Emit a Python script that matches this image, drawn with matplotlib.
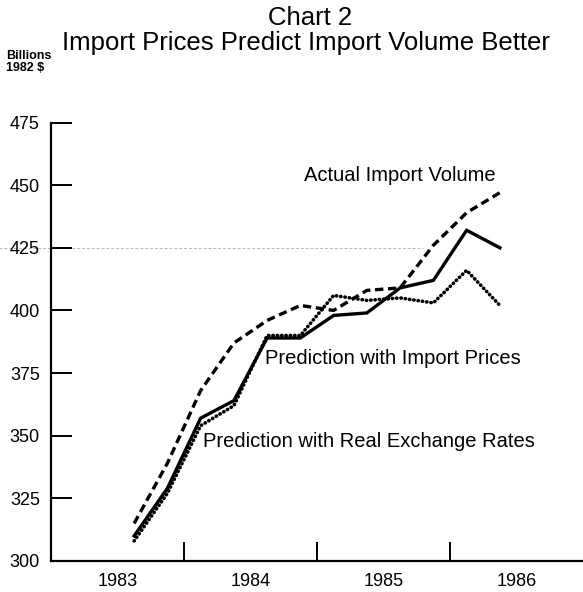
import matplotlib
matplotlib.use("Agg")
import matplotlib.pyplot as plt
import numpy as np

plt.rcParams['font.family'] = ['Liberation Sans', 'DejaVu Sans']

# Quarterly observations, 1983Q3 .. 1986Q2 (plotted at mid-quarter)
quarters = ["1983Q3", "1983Q4", "1984Q1", "1984Q2", "1984Q3", "1984Q4",
            "1985Q1", "1985Q2", "1985Q3", "1985Q4", "1986Q1", "1986Q2"]
actual_volume = [315, 339, 368, 387, 396, 402, 400, 408, 409, 426, 439, 447]
pred_import_prices = [310, 329, 357, 364, 389, 389, 398, 399, 409, 412, 432, 425]
pred_exchange_rates = [308, 327, 354, 362, 390, 390, 406, 404, 405, 403, 416, 402]

year_labels = ["1983", "1984", "1985", "1986"]
y_ticks = [300, 325, 350, 375, 400, 425, 450, 475]

def q_to_x(q):
    y = int(q[:4]); n = int(q[-1])
    return y + (n - 0.5) / 4.0

x = np.array([q_to_x(q) for q in quarters])

W, H = 583, 592
fig = plt.figure(figsize=(W / 100, H / 100), dpi=100)
ax = fig.add_axes([51 / W, 1 - 561 / H, 532 / W, (561 - 122.5) / H])

ax.plot(x, actual_volume, color='black', lw=2.4, linestyle=(0, (2.5, 1.4)),
        solid_capstyle='butt', dash_capstyle='butt')
ax.plot(x, pred_import_prices, color='black', lw=2.4, solid_joinstyle='miter')
ax.plot(x, pred_exchange_rates, color='black', lw=2.6, linestyle=(0, (0.1, 1.1)),
        dash_capstyle='round')

# faint scanning line at 425
ax.plot([1982.6, 1985.8], [425, 425], color='#999999', lw=0.5, linestyle=(0, (4, 3)),
        zorder=0, clip_on=False)

ax.set_xlim(1983, 1987)
ax.set_ylim(300, 475)

for s in ['top', 'right']:
    ax.spines[s].set_visible(False)
ax.spines['left'].set_linewidth(1.6)
ax.spines['bottom'].set_linewidth(1.6)

ax.set_yticks(y_ticks)
ax.set_yticklabels([str(v) for v in y_ticks], fontsize=13)
ax.tick_params(axis='y', direction='in', length=15, width=1.4, pad=8)

years = [int(v) for v in year_labels]
ax.set_xticks([years[1], years[2], years[3]])
ax.set_xticklabels([])
ax.tick_params(axis='x', which='major', direction='in', length=14, width=1.4)
ax.set_xticks([yv + 0.5 for yv in years], minor=True)
ax.set_xticklabels(year_labels, minor=True, fontsize=13)
ax.tick_params(axis='x', which='minor', length=0, pad=9)

ax.text(1984.90, 454, "Actual Import Volume", fontsize=14.5, ha='left', va='center')
ax.text(1984.61, 381, "Prediction with Import Prices", fontsize=14.5, ha='left', va='center')
ax.text(1984.145, 347.5, "Prediction with Real Exchange Rates", fontsize=14.5, ha='left', va='center')

fig.text(310 / W, 1 - 18 / H, "Chart 2", fontsize=18.5, ha='center', va='center')
fig.text(306 / W, 1 - 43 / H, "Import Prices Predict Import Volume Better", fontsize=18.5,
         ha='center', va='center')
fig.text(6 / W, 1 - 62 / H, "Billions\n1982 $", fontsize=9, ha='left', va='center',
         linespacing=1.0, fontweight='bold')

fig.savefig("out.png", dpi=100)
